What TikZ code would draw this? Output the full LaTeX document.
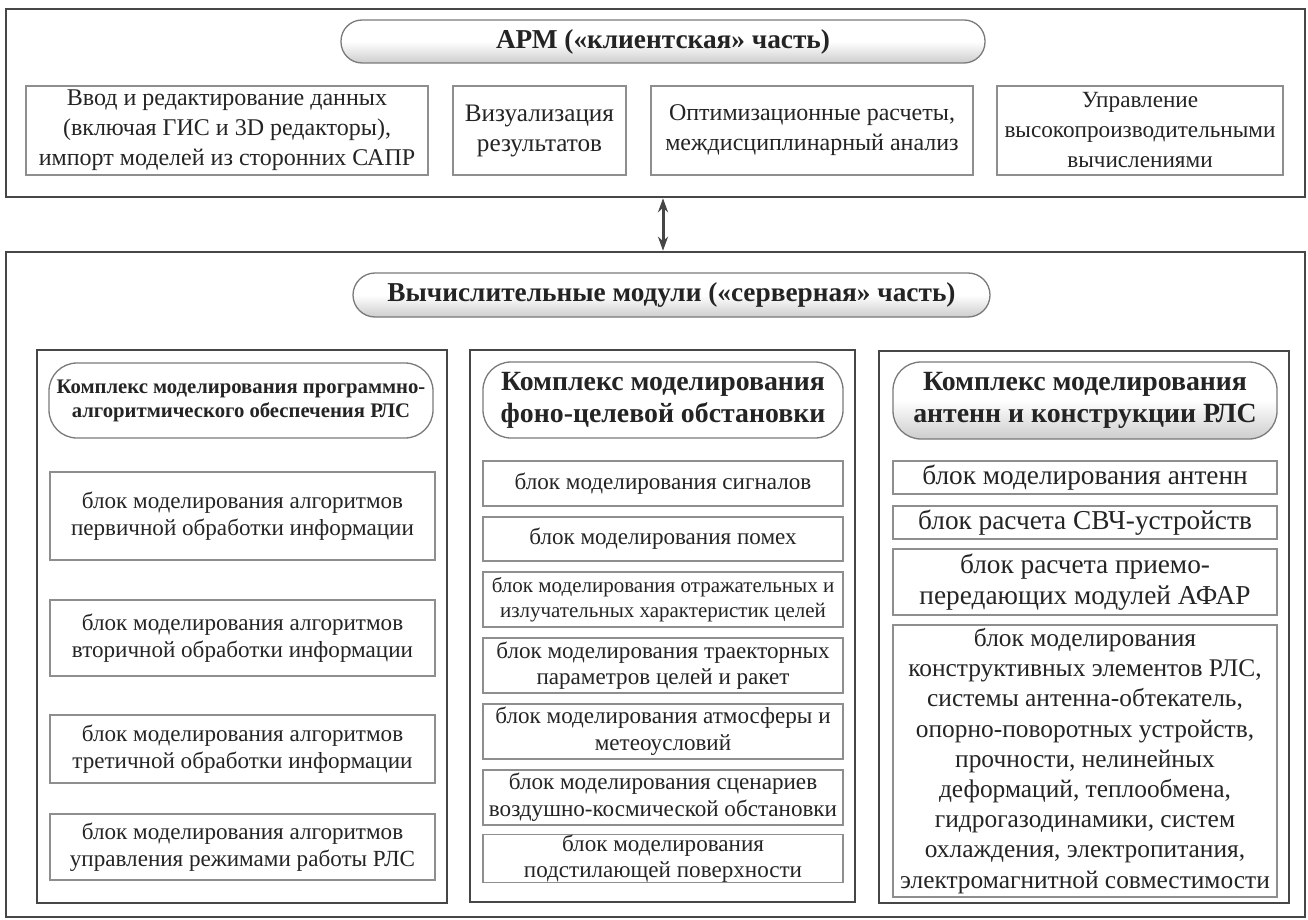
\documentclass[tikz,border=0pt]{standalone}
\usepackage{fontspec}
\setmainfont{Liberation Serif}
\usetikzlibrary{arrows.meta}

\definecolor{frame}{HTML}{464646}
\definecolor{boxline}{HTML}{8E8E8E}
\definecolor{pillline}{HTML}{7A7A7A}
\definecolor{ink}{HTML}{242424}
\definecolor{pillshade}{HTML}{CDCDCD}

\newcommand\fsTop{\fontsize{24}{30}\selectfont}
\newcommand\fsTopL{\fontsize{25.2}{30}\selectfont}
\newcommand\fsHead{\fontsize{27.3}{32}\selectfont}
\newcommand\fsColHead{\fontsize{27.8}{32}\selectfont}
\newcommand\fsColHeadS{\fontsize{20.7}{24}\selectfont}
\newcommand\fsLeft{\fontsize{23.1}{27}\selectfont}
\newcommand\fsMid{\fontsize{23.1}{26.6}\selectfont}
\newcommand\fsMidS{\fontsize{21}{24.5}\selectfont}
\newcommand\fsRight{\fontsize{27.3}{31.6}\selectfont}
\newcommand\fsRightS{\fontsize{25.4}{30.2}\selectfont}

\tikzset{
  outerbox/.style={draw=frame, line width=2.6pt, inner sep=0pt},
  colbox/.style={draw=frame, line width=2.6pt, inner sep=0pt},
  blockbox/.style={draw=boxline, line width=1.4pt, align=center, inner sep=0pt, text=ink},
  pill/.style={draw=pillline, line width=1.3pt, align=center, inner sep=0pt, text=ink, font=\bfseries},
  shadedpill/.style={pill, top color=white, bottom color=pillshade, middle color=white},
  whitepill/.style={pill, fill=white},
  link/.style={draw=frame, line width=3pt, {Stealth[length=14pt,width=10pt]}-{Stealth[length=14pt,width=10pt]}}
}

\begin{document}
\begin{tikzpicture}[x=1pt, y=-1pt]
  \path[use as bounding box, fill=white] (0,0) rectangle (1308,920);

  % client side
  \node[outerbox, minimum width=1299, minimum height=188] (client) at (655.5,103) {};
  \node[shadedpill, rounded corners=21, minimum width=644, minimum height=43, font=\fsHead\bfseries] (clientpill) at (663,41.5) {АРМ («клиентская» часть)};
  \node[blockbox, minimum width=402, minimum height=89, font=\fsTop] (input) at (227,130.5)
    {Ввод и редактирование данных\\(включая ГИС и 3D редакторы),\\импорт моделей из сторонних САПР};
  \node[blockbox, minimum width=173, minimum height=89, font=\fsTopL] (vis) at (539.5,130.5)
    {Визуализация\\результатов};
  \node[blockbox, minimum width=322, minimum height=89, font=\fsTop] (opt) at (812,130.5)
    {Оптимизационные расчеты,\\междисциплинарный анализ};
  \node[blockbox, minimum width=286, minimum height=89, font=\fontsize{23.2}{30}\selectfont] (hpc) at (1140,130.5)
    {Управление\\высокопроизводительными\\вычислениями};

  % server side
  \node[outerbox, minimum width=1299, minimum height=665] (server) at (655.5,584.5) {};
  \node[shadedpill, rounded corners=22, minimum width=637, minimum height=44, font=\fsHead\bfseries] (serverpill) at (671.5,295) {Вычислительные модули («серверная» часть)};

  \draw[link] (clientpill.south |- client.south) -- (clientpill.south |- server.north);

  % left column: radar software
  \node[colbox, minimum width=410, minimum height=553] (colL) at (242,626.5) {};
  \node[whitepill, rounded corners=28, minimum width=384, minimum height=75, font=\fsColHeadS\bfseries] (headL) at (241,400.5)
    {Комплекс моделирования программно-\\алгоритмического обеспечения РЛС};
  \node[blockbox, minimum width=385, minimum height=88, font=\fsLeft] (L1) at (242.5,516)
    {блок моделирования алгоритмов\\первичной обработки информации};
  \node[blockbox, minimum width=385, minimum height=76, font=\fsLeft] (L2) at (242.5,638)
    {блок моделирования алгоритмов\\вторичной обработки информации};
  \node[blockbox, minimum width=385, minimum height=68, font=\fsLeft] (L3) at (242.5,749)
    {блок моделирования алгоритмов\\третичной обработки информации};
  \node[blockbox, minimum width=385, minimum height=66, font=\fsLeft] (L4) at (242.5,847)
    {блок моделирования алгоритмов\\управления режимами работы РЛС};

  % middle column: background and target environment
  \node[colbox, minimum width=385, minimum height=552] (colM) at (662.5,626) {};
  \node[whitepill, rounded corners=28, minimum width=360, minimum height=76, font=\fsColHead\bfseries] (headM) at (663,400)
    {Комплекс моделирования\\фоно-целевой обстановки};
  \node[blockbox, minimum width=360, minimum height=45, font=\fsMid] (M1) at (663,483.5)
    {блок моделирования сигналов};
  \node[blockbox, minimum width=360, minimum height=44, font=\fsMid] (M2) at (663,539)
    {блок моделирования помех};
  \node[blockbox, minimum width=360, minimum height=55, font=\fsMidS] (M3) at (663,599.5)
    {блок моделирования отражательных и\\излучательных характеристик целей};
  \node[blockbox, minimum width=360, minimum height=55, font=\fsMid] (M4) at (663,665.5)
    {блок моделирования траекторных\\параметров целей и ракет};
  \node[blockbox, minimum width=360, minimum height=55, font=\fsMid] (M5) at (663,731.5)
    {блок моделирования атмосферы и\\метеоусловий};
  \node[blockbox, minimum width=360, minimum height=55, font=\fsMid] (M6) at (663,797.5)
    {блок моделирования сценариев\\воздушно-космической обстановки};
  \node[blockbox, minimum width=360, minimum height=45, font=\fsMid] (M7) at (663,858.5)
    {блок моделирования\\подстилающей поверхности};

  % right column: antennas and structure
  \node[colbox, minimum width=410, minimum height=552] (colR) at (1084,627) {};
  \node[shadedpill, rounded corners=28, minimum width=384, minimum height=77, font=\fsColHead\bfseries] (headR) at (1085,400.5)
    {Комплекс моделирования\\антенн и конструкции РЛС};
  \node[blockbox, minimum width=384, minimum height=33, font=\fsRight] (R1) at (1085,477.5)
    {блок моделирования антенн};
  \node[blockbox, minimum width=384, minimum height=33, font=\fsRight] (R2) at (1085,522.5)
    {блок расчета СВЧ-устройств};
  \node[blockbox, minimum width=384, minimum height=66, font=\fsRight] (R3) at (1085,582)
    {блок расчета приемо-\\передающих модулей АФАР};
  \node[blockbox, minimum width=384, minimum height=272, font=\fsRightS] (R4) at (1085,761)
    {блок моделирования\\конструктивных элементов РЛС,\\системы антенна-обтекатель,\\опорно-поворотных устройств,\\прочности, нелинейных\\деформаций, теплообмена,\\гидрогазодинамики, систем\\охлаждения, электропитания,\\электромагнитной совместимости};
\end{tikzpicture}
\end{document}
